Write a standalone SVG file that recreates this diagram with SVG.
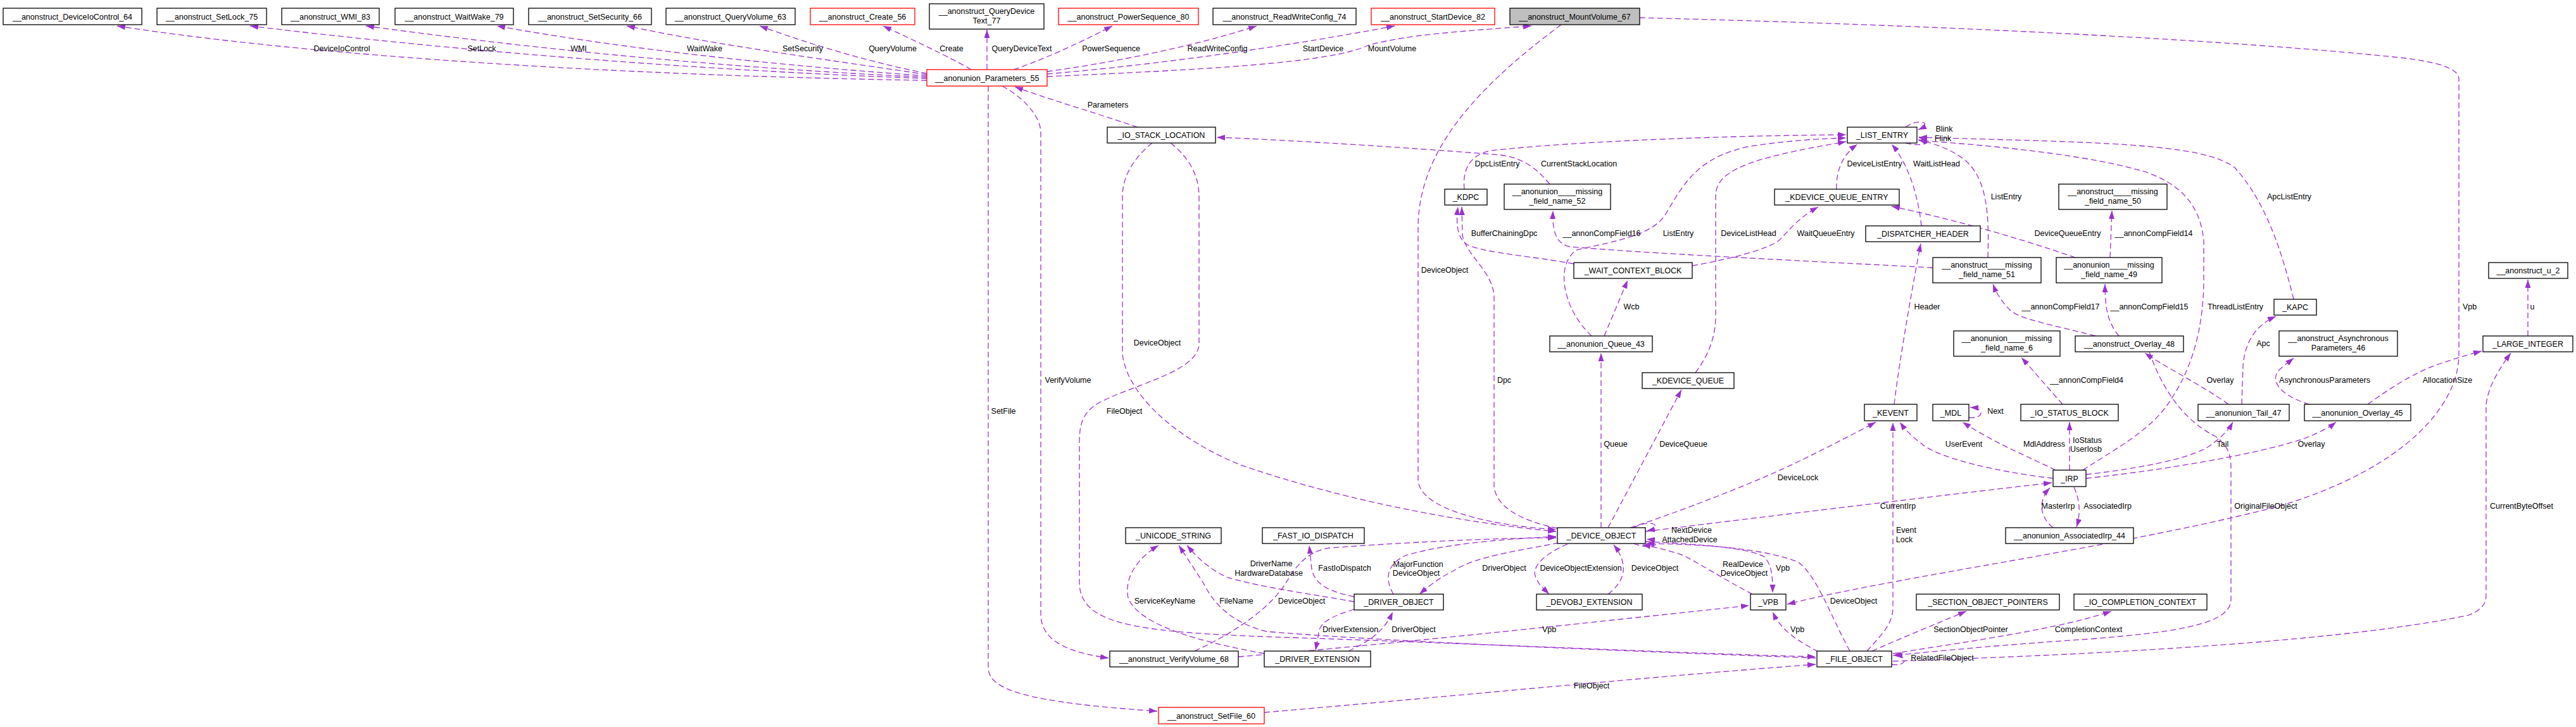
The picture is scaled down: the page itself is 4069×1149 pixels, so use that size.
<svg xmlns="http://www.w3.org/2000/svg" width="4069" height="1149" viewBox="0 0 4069 1149">
<defs>
<marker id="a" markerUnits="userSpaceOnUse" markerWidth="14" markerHeight="10" refX="13" refY="4.5" orient="auto"><path d="M0,0 L13,4.5 L0,9 z" fill="#9a32cd"/></marker>
<style>
.n rect{fill:#fff;stroke:#000;stroke-width:1.3}
.n.r rect{stroke:#f00}
.n.g rect{fill:#bfbfbf}
text{font-family:"Liberation Sans",Arial,sans-serif;font-size:12.5px;fill:#000;text-anchor:middle}
#edges path{fill:none;stroke:#9a32cd;stroke-width:1.3;stroke-dasharray:9,5;marker-end:url(#a)}
</style>
</defs>
<rect width="4069" height="1149" fill="#fff"/>
<g id="edges">
<path d="M1464,127 C1000,120 500,90 185,41"/>
<path d="M1464,124 C1200,115 800,90 395,41"/>
<path d="M1464,122 C1200,110 900,85 578,41"/>
<path d="M1464,120 C1250,105 1000,80 785,41"/>
<path d="M1464,118 C1350,100 1150,75 990,41"/>
<path d="M1464,116 C1380,100 1280,70 1200,41"/>
<path d="M1534,110 C1500,90 1440,62 1395,41"/>
<path d="M1559,110 L1559,47"/>
<path d="M1601,110 C1660,90 1720,60 1757,41"/>
<path d="M1654,113 C1750,100 1880,75 1985,41"/>
<path d="M1654,117 C1850,100 2050,70 2203,41"/>
<path d="M1654,121 C1900,110 2100,100 2160,72 C2220,55 2300,50 2419,41"/>
<path d="M1797,201 C1720,175 1650,155 1603,137"/>
<path d="M1583,136 C1610,150 1644,180 1644,210 L1644,970 C1644,1010 1680,1030 1751,1040"/>
<path d="M1561,136 L1561,1055 C1561,1090 1620,1110 1828,1124"/>
<path d="M2448,291 C2430,270 2410,250 2370,245 C2250,235 2050,222 1922,217"/>
<path d="M1820,226 C1790,250 1773,280 1773,310 L1773,560 C1780,620 1850,690 1960,735 C2120,790 2300,825 2458,840"/>
<path d="M1849,226 C1880,250 1894,280 1894,310 L1894,545 C1890,590 1780,610 1730,640 C1710,655 1705,670 1705,700 L1705,920 C1705,990 1800,1000 2050,1008 C2400,1020 2700,1034 2868,1038"/>
<path d="M2466,39 C2330,140 2240,240 2240,360 L2240,760 C2245,805 2350,830 2458,837"/>
<path d="M2460,835 C2400,822 2360,800 2360,765 L2360,470 C2360,430 2312,400 2310,370 L2309,327"/>
<path d="M2486,417 C2420,405 2350,400 2320,388 C2300,378 2300,350 2303,327"/>
<path d="M2313,299 C2310,270 2320,245 2355,238 C2500,222 2750,214 2916,213"/>
<path d="M3053,423 C2800,410 2600,400 2480,390 C2455,385 2452,360 2453,333"/>
<path d="M2514,531 C2470,490 2455,420 2490,395 C2560,380 2610,370 2630,340 C2660,290 2680,250 2760,232 C2820,222 2880,219 2916,218"/>
<path d="M2534,531 L2571,443"/>
<path d="M2673,420 C2730,410 2790,395 2810,380 C2830,360 2840,345 2872,327"/>
<path d="M2678,589 C2700,560 2710,530 2710,500 L2710,310 C2710,270 2760,250 2916,224"/>
<path d="M2901,299 C2900,270 2910,245 2934,228"/>
<path d="M3035,357 C3030,310 3015,260 2988,228"/>
<path d="M2992,639 C3000,570 3025,430 3034,385"/>
<path d="M3010,201 C3030,186 3055,194 3030,205"/>
<path d="M3010,226 C3040,234 3058,222 3030,217"/>
<path d="M3140,407 C3142,340 3140,280 3100,250 C3080,236 3060,228 3030,221"/>
<path d="M3623,473 C3605,400 3580,320 3530,265 C3480,225 3300,225 3031,217"/>
<path d="M3290,743 C3340,710 3400,680 3430,630 C3470,570 3481,500 3481,440 L3481,380 C3475,320 3440,290 3390,272 C3300,245 3150,230 3031,222"/>
<path d="M3278,407 C3200,380 3100,350 2988,326"/>
<path d="M3333,407 L3336,333"/>
<path d="M3310,531 C3250,515 3190,505 3175,490 C3160,475 3152,460 3148,449"/>
<path d="M3347,531 C3330,510 3325,490 3325,449"/>
<path d="M3258,639 L3193,565"/>
<path d="M3520,639 C3480,610 3420,580 3388,558"/>
<path d="M3395,556 C3410,600 3440,660 3500,690 C3520,705 3524,720 3524,740 L3524,950 C3520,990 3420,1000 3300,1010 C3150,1020 3050,1030 2990,1036"/>
<path d="M2990,1045 C3300,1035 3700,1015 3900,972 C3925,962 3927,950 3927,940 L3927,640 C3930,610 3950,580 3966,558"/>
<path d="M3993,531 L3993,442"/>
<path d="M3740,639 C3780,610 3820,585 3860,573 C3880,566 3900,560 3920,555"/>
<path d="M3648,639 C3600,625 3585,600 3600,585 C3610,575 3618,570 3623,566"/>
<path d="M3541,639 L3543,580 C3545,545 3560,515 3595,500"/>
<path d="M3295,750 C3380,740 3460,725 3490,705 C3510,690 3520,680 3527,667"/>
<path d="M3295,756 C3400,745 3560,720 3640,693 C3665,683 3680,675 3690,667"/>
<path d="M3243,756 C3150,745 3070,725 3040,705 C3020,690 3010,680 3001,667"/>
<path d="M3247,743 C3200,720 3150,700 3100,667"/>
<path d="M3110,660 C3132,663 3138,645 3112,644"/>
<path d="M3269,743 L3269,667"/>
<path d="M3276,770 C3285,790 3287,810 3280,833"/>
<path d="M3243,834 C3220,815 3220,790 3238,771"/>
<path d="M2599,840 C2800,815 3050,785 3241,763"/>
<path d="M2575,834 C2650,810 2780,760 2850,725 C2900,700 2940,680 2963,667"/>
<path d="M2529,834 L2529,558"/>
<path d="M2540,834 L2656,616"/>
<path d="M2580,834 C2612,818 2628,834 2601,839"/>
<path d="M2580,859 C2616,872 2628,855 2601,852"/>
<path d="M2462,858 C2400,870 2330,880 2300,900 C2270,915 2255,928 2242,939"/>
<path d="M2201,939 C2190,920 2185,895 2220,878 C2280,860 2370,852 2458,848"/>
<path d="M2139,943 C2100,935 2078,925 2072,900 L2068,862"/>
<path d="M2139,951 C2080,940 2000,930 1940,913 C1910,900 1890,880 1875,862"/>
<path d="M1887,1029 C1950,1000 2010,960 2035,915 C2050,890 2070,870 2100,866 C2250,855 2380,850 2458,850"/>
<path d="M1997,1033 C1900,1015 1800,990 1782,945 C1775,910 1800,880 1830,862"/>
<path d="M2868,1040 C2600,1030 2200,1015 2000,998 C1950,985 1920,960 1900,920 L1862,862"/>
<path d="M1997,1126 C2300,1100 2600,1070 2868,1050"/>
<path d="M2139,963 C2110,972 2090,980 2084,995 L2078,1028"/>
<path d="M2130,1029 C2160,1015 2185,1000 2200,967"/>
<path d="M1956,1038 C2200,1018 2500,985 2763,957"/>
<path d="M2476,860 C2440,875 2420,895 2425,910 C2430,925 2440,932 2447,939"/>
<path d="M2540,939 C2565,920 2575,895 2549,861"/>
<path d="M2768,939 C2740,925 2700,900 2660,878 C2630,868 2610,864 2594,861"/>
<path d="M2599,856 C2680,860 2760,865 2787,880 C2800,895 2800,915 2800,937"/>
<path d="M2922,1029 C2890,970 2870,910 2840,888 C2780,865 2680,860 2600,859"/>
<path d="M2872,1030 C2845,1015 2815,1000 2800,967"/>
<path d="M2590,28 C3000,38 3500,60 3800,92 C3860,100 3884,110 3884,125 L3884,560 C3884,640 3800,740 3600,800 C3350,865 3000,910 2823,955"/>
<path d="M2957,1029 C3000,1010 3060,985 3106,966"/>
<path d="M2990,1033 C3100,1015 3250,995 3335,966"/>
<path d="M2988,1050 C3012,1054 3016,1036 2992,1036"/>
<path d="M2949,1029 C2975,1000 2990,985 2990,960 L2990,668"/>
</g>
<g id="labels">
<text x="540" y="81">DeviceIoControl</text>
<text x="761" y="81">SetLock</text>
<text x="914" y="81">WMI</text>
<text x="1113" y="81">WaitWake</text>
<text x="1268" y="81">SetSecurity</text>
<text x="1410" y="81">QueryVolume</text>
<text x="1503" y="81">Create</text>
<text x="1614" y="81">QueryDeviceText</text>
<text x="1755" y="81">PowerSequence</text>
<text x="1923" y="81">ReadWriteConfig</text>
<text x="2090" y="81">StartDevice</text>
<text x="2199" y="81">MountVolume</text>
<text x="1750" y="170">Parameters</text>
<text x="1828" y="546">DeviceObject</text>
<text x="1687" y="605">VerifyVolume</text>
<text x="1585" y="654">SetFile</text>
<text x="1776" y="654">FileObject</text>
<text x="2494" y="263">CurrentStackLocation</text>
<text x="2365" y="263">DpcListEntry</text>
<text x="2376" y="373">BufferChainingDpc</text>
<text x="2530" y="373">__annonCompField16</text>
<text x="2651" y="373">ListEntry</text>
<text x="2762" y="373">DeviceListHead</text>
<text x="2884" y="373">WaitQueueEntry</text>
<text x="2961" y="263">DeviceListEntry</text>
<text x="3059" y="263">WaitListHead</text>
<text x="3071" y="208">Blink</text>
<text x="3069" y="223">Flink</text>
<text x="3169" y="315">ListEntry</text>
<text x="3266" y="373">DeviceQueueEntry</text>
<text x="3402" y="373">__annonCompField14</text>
<text x="3044" y="489">Header</text>
<text x="3255" y="489">__annonCompField17</text>
<text x="3395" y="489">__annonCompField15</text>
<text x="3616" y="315">ApcListEntry</text>
<text x="3531" y="489">ThreadListEntry</text>
<text x="3575" y="547">Apc</text>
<text x="3901" y="489">Vpb</text>
<text x="4000" y="489">u</text>
<text x="2282" y="431">DeviceObject</text>
<text x="2577" y="489">Wcb</text>
<text x="2376" y="605">Dpc</text>
<text x="2552" y="706">Queue</text>
<text x="2659" y="706">DeviceQueue</text>
<text x="2672" y="842">NextDevice</text>
<text x="2669" y="857">AttachedDevice</text>
<text x="2124" y="902">FastIoDispatch</text>
<text x="2240" y="896">MajorFunction</text>
<text x="2237" y="910">DeviceObject</text>
<text x="2376" y="902">DriverObject</text>
<text x="2497" y="902">DeviceObjectExtension</text>
<text x="2614" y="902">DeviceObject</text>
<text x="2133" y="999">DriverExtension</text>
<text x="2233" y="999">DriverObject</text>
<text x="2447" y="999">Vpb</text>
<text x="2514" y="1088">FileObject</text>
<text x="2008" y="895">DriverName</text>
<text x="2004" y="910">HardwareDatabase</text>
<text x="1840" y="954">ServiceKeyName</text>
<text x="1953" y="954">FileName</text>
<text x="2056" y="954">DeviceObject</text>
<text x="3296" y="605">__annonCompField4</text>
<text x="3152" y="654">Next</text>
<text x="3102" y="706">UserEvent</text>
<text x="3229" y="706">MdlAddress</text>
<text x="3297" y="700">IoStatus</text>
<text x="3295" y="714">UserIosb</text>
<text x="2840" y="759">DeviceLock</text>
<text x="2998" y="804">CurrentIrp</text>
<text x="3251" y="804">MasterIrp</text>
<text x="3329" y="804">AssociatedIrp</text>
<text x="3011" y="842">Event</text>
<text x="3008" y="857">Lock</text>
<text x="2753" y="896">RealDevice</text>
<text x="2755" y="910">DeviceObject</text>
<text x="2816" y="902">Vpb</text>
<text x="2928" y="954">DeviceObject</text>
<text x="2839" y="999">Vpb</text>
<text x="3113" y="999">SectionObjectPointer</text>
<text x="3299" y="999">CompletionContext</text>
<text x="3068" y="1044">RelatedFileObject</text>
<text x="3507" y="605">Overlay</text>
<text x="3672" y="605">AsynchronousParameters</text>
<text x="3866" y="605">AllocationSize</text>
<text x="3511" y="706">Tail</text>
<text x="3651" y="706">Overlay</text>
<text x="3579" y="804">OriginalFileObject</text>
<text x="3983" y="804">CurrentByteOffset</text>
</g>
<g id="n_DeviceIoControl_64" class="n"><rect x="5" y="13" width="219" height="26"/><text x="114.5" y="30.5">__anonstruct_DeviceIoControl_64</text></g>
<g id="n_SetLock_75" class="n"><rect x="248" y="13" width="173" height="26"/><text x="334.5" y="30.5">__anonstruct_SetLock_75</text></g>
<g id="n_WMI_83" class="n"><rect x="445" y="13" width="154" height="26"/><text x="522" y="30.5">__anonstruct_WMI_83</text></g>
<g id="n_WaitWake_79" class="n"><rect x="624" y="13" width="187" height="26"/><text x="717.5" y="30.5">__anonstruct_WaitWake_79</text></g>
<g id="n_SetSecurity_66" class="n"><rect x="835" y="13" width="194" height="26"/><text x="932" y="30.5">__anonstruct_SetSecurity_66</text></g>
<g id="n_QueryVolume_63" class="n"><rect x="1052" y="13" width="204" height="26"/><text x="1154" y="30.5">__anonstruct_QueryVolume_63</text></g>
<g id="n_Create_56" class="n r"><rect x="1280" y="13" width="165" height="26"/><text x="1362.5" y="30.5">__anonstruct_Create_56</text></g>
<g id="n_QueryDeviceText_77" class="n"><rect x="1468" y="6" width="181" height="40"/><text x="1558.5" y="22">__anonstruct_QueryDevice</text><text x="1558.5" y="37">Text_77</text></g>
<g id="n_PowerSequence_80" class="n r"><rect x="1672" y="13" width="221" height="26"/><text x="1782.5" y="30.5">__anonstruct_PowerSequence_80</text></g>
<g id="n_ReadWriteConfig_74" class="n"><rect x="1916" y="13" width="226" height="26"/><text x="2029" y="30.5">__anonstruct_ReadWriteConfig_74</text></g>
<g id="n_StartDevice_82" class="n r"><rect x="2166" y="13" width="195" height="26"/><text x="2263.5" y="30.5">__anonstruct_StartDevice_82</text></g>
<g id="n_MountVolume_67" class="n g"><rect x="2385" y="13" width="205" height="26"/><text x="2487.5" y="30.5">__anonstruct_MountVolume_67</text></g>
<g id="n_Parameters_55" class="n r"><rect x="1464" y="110" width="190" height="26"/><text x="1559" y="127.5">__anonunion_Parameters_55</text></g>
<g id="n_IO_STACK_LOCATION" class="n"><rect x="1749" y="201" width="171" height="25"/><text x="1834.5" y="218">_IO_STACK_LOCATION</text></g>
<g id="n_LIST_ENTRY" class="n"><rect x="2918" y="201" width="110" height="25"/><text x="2973" y="218">_LIST_ENTRY</text></g>
<g id="n_KDPC" class="n"><rect x="2282" y="299" width="67" height="25"/><text x="2315.5" y="316">_KDPC</text></g>
<g id="n_missing_52" class="n"><rect x="2376" y="291" width="168" height="40"/><text x="2460" y="307">__anonunion____missing</text><text x="2460" y="322">_field_name_52</text></g>
<g id="n_KDEVICE_QUEUE_ENTRY" class="n"><rect x="2803" y="299" width="197" height="25"/><text x="2901.5" y="316">_KDEVICE_QUEUE_ENTRY</text></g>
<g id="n_missing_50" class="n"><rect x="3252" y="291" width="171" height="40"/><text x="3337.5" y="307">__anonstruct____missing</text><text x="3337.5" y="322">_field_name_50</text></g>
<g id="n_DISPATCHER_HEADER" class="n"><rect x="2947" y="357" width="181" height="25"/><text x="3037.5" y="374">_DISPATCHER_HEADER</text></g>
<g id="n_missing_51" class="n"><rect x="3053" y="407" width="171" height="40"/><text x="3138.5" y="423">__anonstruct____missing</text><text x="3138.5" y="438">_field_name_51</text></g>
<g id="n_missing_49" class="n"><rect x="3248" y="407" width="167" height="40"/><text x="3331.5" y="423">__anonunion____missing</text><text x="3331.5" y="438">_field_name_49</text></g>
<g id="n_WAIT_CONTEXT_BLOCK" class="n"><rect x="2486" y="415" width="187" height="25"/><text x="2579.5" y="432">_WAIT_CONTEXT_BLOCK</text></g>
<g id="n_u_2" class="n"><rect x="3931" y="415" width="125" height="25"/><text x="3993.5" y="432">__anonstruct_u_2</text></g>
<g id="n_KAPC" class="n"><rect x="3592" y="473" width="67" height="25"/><text x="3625.5" y="490">_KAPC</text></g>
<g id="n_missing_6" class="n"><rect x="3086" y="523" width="168" height="40"/><text x="3170" y="539">__anonunion____missing</text><text x="3170" y="554">_field_name_6</text></g>
<g id="n_AsynchronousParameters_46" class="n"><rect x="3600" y="523" width="187" height="40"/><text x="3693.5" y="539">__anonstruct_Asynchronous</text><text x="3693.5" y="554">Parameters_46</text></g>
<g id="n_Queue_43" class="n"><rect x="2448" y="531" width="162" height="25"/><text x="2529" y="548">__anonunion_Queue_43</text></g>
<g id="n_Overlay_48" class="n"><rect x="3278" y="531" width="171" height="25"/><text x="3363.5" y="548">__anonstruct_Overlay_48</text></g>
<g id="n_LARGE_INTEGER" class="n"><rect x="3922" y="531" width="142" height="25"/><text x="3993" y="548">_LARGE_INTEGER</text></g>
<g id="n_KDEVICE_QUEUE" class="n"><rect x="2594" y="589" width="145" height="25"/><text x="2666.5" y="606">_KDEVICE_QUEUE</text></g>
<g id="n_KEVENT" class="n"><rect x="2945" y="639" width="83" height="26"/><text x="2986.5" y="656.5">_KEVENT</text></g>
<g id="n_MDL" class="n"><rect x="3053" y="639" width="57" height="26"/><text x="3081.5" y="656.5">_MDL</text></g>
<g id="n_IO_STATUS_BLOCK" class="n"><rect x="3192" y="639" width="154" height="26"/><text x="3269" y="656.5">_IO_STATUS_BLOCK</text></g>
<g id="n_Tail_47" class="n"><rect x="3472" y="639" width="144" height="26"/><text x="3544" y="656.5">__anonunion_Tail_47</text></g>
<g id="n_Overlay_45" class="n"><rect x="3640" y="639" width="168" height="26"/><text x="3724" y="656.5">__anonunion_Overlay_45</text></g>
<g id="n_IRP" class="n"><rect x="3243" y="743" width="52" height="26"/><text x="3269" y="760.5">_IRP</text></g>
<g id="n_UNICODE_STRING" class="n"><rect x="1778" y="834" width="151" height="25"/><text x="1853.5" y="851">_UNICODE_STRING</text></g>
<g id="n_FAST_IO_DISPATCH" class="n"><rect x="1994" y="834" width="161" height="25"/><text x="2074.5" y="851">_FAST_IO_DISPATCH</text></g>
<g id="n_DEVICE_OBJECT" class="n"><rect x="2460" y="834" width="139" height="25"/><text x="2529.5" y="851">_DEVICE_OBJECT</text></g>
<g id="n_AssociatedIrp_44" class="n"><rect x="3168" y="834" width="202" height="25"/><text x="3269" y="851">__anonunion_AssociatedIrp_44</text></g>
<g id="n_DRIVER_OBJECT" class="n"><rect x="2139" y="939" width="141" height="25"/><text x="2209.5" y="956">_DRIVER_OBJECT</text></g>
<g id="n_DEVOBJ_EXTENSION" class="n"><rect x="2427" y="939" width="167" height="25"/><text x="2510.5" y="956">_DEVOBJ_EXTENSION</text></g>
<g id="n_VPB" class="n"><rect x="2765" y="939" width="56" height="25"/><text x="2793" y="956">_VPB</text></g>
<g id="n_SECTION_OBJECT_POINTERS" class="n"><rect x="3027" y="939" width="226" height="25"/><text x="3140" y="956">_SECTION_OBJECT_POINTERS</text></g>
<g id="n_IO_COMPLETION_CONTEXT" class="n"><rect x="3276" y="939" width="210" height="25"/><text x="3381" y="956">_IO_COMPLETION_CONTEXT</text></g>
<g id="n_VerifyVolume_68" class="n"><rect x="1753" y="1029" width="203" height="25"/><text x="1854.5" y="1046">__anonstruct_VerifyVolume_68</text></g>
<g id="n_DRIVER_EXTENSION" class="n"><rect x="1997" y="1029" width="168" height="25"/><text x="2081" y="1046">_DRIVER_EXTENSION</text></g>
<g id="n_FILE_OBJECT" class="n"><rect x="2870" y="1029" width="118" height="25"/><text x="2929" y="1046">_FILE_OBJECT</text></g>
<g id="n_SetFile_60" class="n r"><rect x="1830" y="1118" width="167" height="26"/><text x="1913.5" y="1135.5">__anonstruct_SetFile_60</text></g>
</svg>
